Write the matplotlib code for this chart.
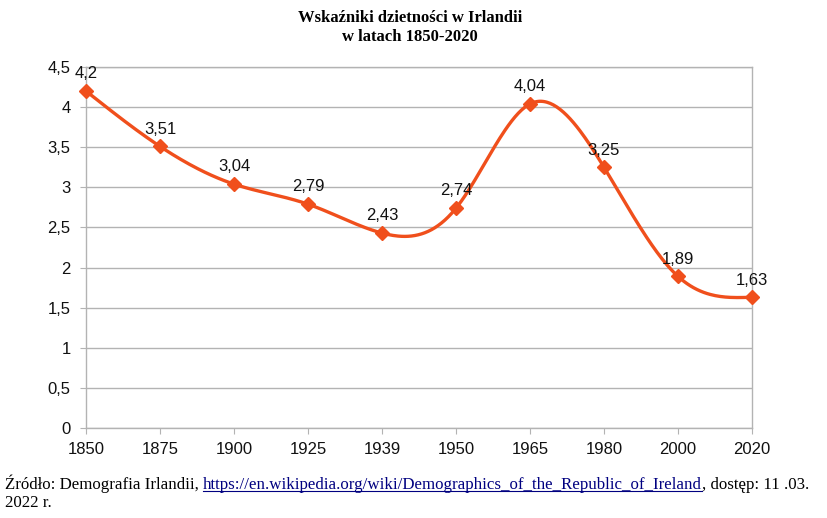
import numpy as np
import matplotlib
matplotlib.use("Agg")
import matplotlib.pyplot as plt

years = ["1850", "1875", "1900", "1925", "1939", "1950", "1965", "1980", "2000", "2020"]
values = [4.2, 3.51, 3.04, 2.79, 2.43, 2.74, 4.04, 3.25, 1.89, 1.63]
labels = ["4,2", "3,51", "3,04", "2,79", "2,43", "2,74", "4,04", "3,25", "1,89", "1,63"]
yticks = [0, 0.5, 1, 1.5, 2, 2.5, 3, 3.5, 4, 4.5]
ytick_labels = ["0", "0,5", "1", "1,5", "2", "2,5", "3", "3,5", "4", "4,5"]

title = "Wskaźniki dzietności w Irlandii\nw latach 1850-2020"
src_a = "Źródło: Demografia Irlandii, "
src_link = "https://en.wikipedia.org/wiki/Demographics_of_the_Republic_of_Ireland"
src_b = ", dostęp: 11 .03."
src_c = "2022 r."

color = "#f04f1c"
sans = ["Liberation Sans", "DejaVu Sans"]
serif = ["Liberation Serif", "DejaVu Serif"]


def natural_spline(x, y, n=400):
    x = np.asarray(x, float)
    y = np.asarray(y, float)
    m = len(x)
    h = np.diff(x)
    A = np.zeros((m, m))
    b = np.zeros(m)
    A[0, 0] = 1
    A[-1, -1] = 1
    for i in range(1, m - 1):
        A[i, i - 1] = h[i - 1]
        A[i, i] = 2 * (h[i - 1] + h[i])
        A[i, i + 1] = h[i]
        b[i] = 3 * ((y[i + 1] - y[i]) / h[i] - (y[i] - y[i - 1]) / h[i - 1])
    c = np.linalg.solve(A, b)
    xs = np.linspace(x[0], x[-1], n)
    ys = np.empty_like(xs)
    for k, xv in enumerate(xs):
        i = min(np.searchsorted(x, xv, side="right") - 1, m - 2)
        dx = xv - x[i]
        bi = (y[i + 1] - y[i]) / h[i] - h[i] * (2 * c[i] + c[i + 1]) / 3
        di = (c[i + 1] - c[i]) / (3 * h[i])
        ys[k] = y[i] + bi * dx + c[i] * dx ** 2 + di * dx ** 3
    return xs, ys


fig = plt.figure(figsize=(8.27, 5.18), dpi=100)
ax = fig.add_axes([86 / 827, 1 - 428 / 518, (752 - 86) / 827, (428 - 67) / 518])

xi = np.arange(len(years))
xs, ys = natural_spline(xi, values)
ax.plot(xs, ys, color=color, lw=2.4, solid_capstyle="round", zorder=3, clip_on=False)
ax.plot(xi, values, ls="none", marker="D", ms=7.5, color=color, zorder=4, clip_on=False)
for x, v, t in zip(xi, values, labels):
    ax.annotate(t, (x, v), xytext=(0, 7), textcoords="offset points",
                ha="center", va="bottom", fontsize=12, family=sans, color="#111111", zorder=5)

ax.set_xlim(0, len(years) - 1)
ax.set_ylim(0, 4.5)
ax.set_xticks(xi)
ax.set_xticklabels(years, family=sans, fontsize=12)
ax.set_yticks(yticks)
ax.set_yticklabels(ytick_labels, family=sans, fontsize=12)
ax.grid(axis="y", color="#b3b3b3", lw=1)
ax.set_axisbelow(True)
for s in ["top", "right", "left", "bottom"]:
    ax.spines[s].set_color("#b3b3b3")
    ax.spines[s].set_linewidth(1)
ax.tick_params(axis="both", direction="out", length=4, color="#b3b3b3", labelcolor="#111111")
ax.tick_params(axis="y", pad=7)
ax.tick_params(axis="x", pad=6)

fig.text(410 / 827, 1 - 10 / 518, title, ha="center", va="top", fontsize=12,
         fontweight="bold", family=serif, linespacing=1.25)

# source text with underlined link
fig.canvas.draw()
r = fig.canvas.get_renderer()
y1 = 1 - 489 / 518
fs = 12.2
t1 = fig.text(5 / 827, y1, src_a, ha="left", va="baseline", fontsize=fs, family=serif)
bb = t1.get_window_extent(r)
t2 = fig.text(bb.x1 / 827, y1, src_link, ha="left", va="baseline", fontsize=fs,
              family=serif, color="#000080")
bb2 = t2.get_window_extent(r)
fig.add_artist(plt.Line2D([bb2.x0 / 827, bb2.x1 / 827], [y1 - 2 / 518, y1 - 2 / 518],
                          color="#000080", lw=0.8, transform=fig.transFigure))
fig.text(bb2.x1 / 827, y1, src_b, ha="left", va="baseline", fontsize=fs, family=serif)
fig.text(5 / 827, 1 - 507 / 518, src_c, ha="left", va="baseline", fontsize=fs, family=serif)

fig.savefig("out.png", dpi=100)
